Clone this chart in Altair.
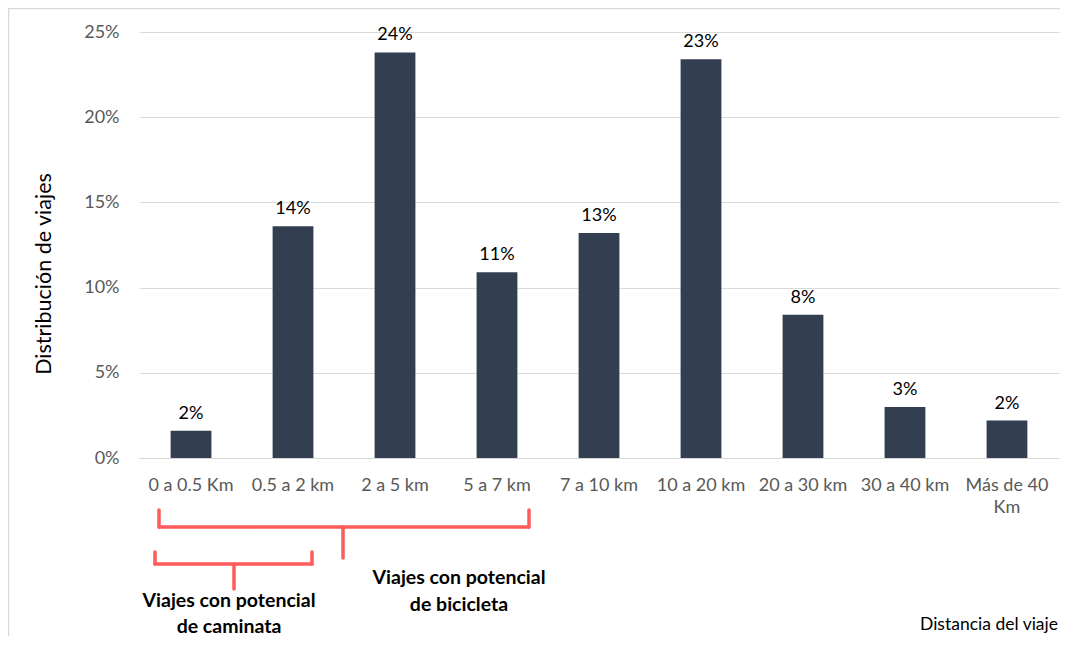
import altair as alt
import pandas as pd

categories = ["0 a 0.5 Km", "0.5 a 2 km", "2 a 5 km", "5 a 7 km", "7 a 10 km",
              "10 a 20 km", "20 a 30 km", "30 a 40 km", "Más de 40 Km"]
values = [0.016, 0.136, 0.238, 0.109, 0.132, 0.234, 0.084, 0.030, 0.022]
y_ticks = [0, 0.05, 0.10, 0.15, 0.20, 0.25]

df = pd.DataFrame({"cat": categories, "value": values})

FONT = "Lato"
RED = "#FF5B5B"
BAR = "#333F50"
GRID = "#D9D9D9"
W, H = 920, 426

x_enc = alt.X("cat:N", sort=categories, title=None,
              scale=alt.Scale(paddingInner=0.6, paddingOuter=0.31),
              axis=alt.Axis(labelAngle=0, labelFont=FONT, labelFontSize=18,
                            labelColor="#595959", labelPadding=18, ticks=False,
                            domainColor=GRID, labelLineHeight=22,
                            labelExpr="datum.label == 'Más de 40 Km' ? ['Más de 40', 'Km'] : datum.label"))
y_enc = alt.Y("value:Q", title=None,
              scale=alt.Scale(domain=[0, 0.25], nice=False),
              axis=alt.Axis(values=y_ticks, format=".0%", labelFont=FONT, labelFontSize=18,
                            labelColor="#595959", labelPadding=20, ticks=False,
                            domain=False, gridColor=GRID, gridWidth=1))

base = alt.Chart(df)
bars = base.mark_bar(color=BAR).encode(x=x_enc, y=y_enc)
labels = base.mark_text(baseline="alphabetic", dy=-12, font=FONT, fontSize=18,
                        color="#000000").encode(
    x=alt.X("cat:N", sort=categories),
    y=alt.Y("value:Q"),
    text=alt.Text("value:Q", format=".0%"))


def one():
    return alt.Chart(alt.Data(values=[{}]))


def seg(x1, y1, x2, y2, color=RED, width=3.5):
    return one().mark_rule(color=color, strokeWidth=width, strokeCap="round").encode(
        x=alt.value(x1), y=alt.value(y1), x2=alt.value(x2), y2=alt.value(y2))


def txt(s, x, y, size=19.5, bold=True, align="center", angle=0, baseline="alphabetic"):
    kw = dict(font=FONT, fontSize=size, fontWeight="bold" if bold else "normal",
              align=align, baseline=baseline, color="#000000")
    if angle:
        kw["angle"] = angle
    return one().mark_text(**kw).encode(x=alt.value(x), y=alt.value(y), text=alt.value(s))


annots = [
    # large bracket (bicicleta)
    seg(20, 478, 20, 495), seg(20, 495, 390, 495), seg(390, 478, 390, 495),
    seg(204, 495, 204, 526),
    # small bracket (caminata)
    seg(16, 520, 16, 532), seg(16, 532, 173, 532), seg(173, 520, 173, 532),
    seg(95, 532, 95, 557),
    txt("Viajes con potencial", 90, 575), txt("de caminata", 90, 601),
    txt("Viajes con potencial", 320, 552), txt("de bicicleta", 320, 579),
    txt("Distancia del viaje", 919, 598, size=17.5, bold=False, align="right"),
    txt("Distribución de viajes", -94, 242, size=21.5, bold=False, angle=270, baseline="middle"),
    # outer frame (top and left edges)
    seg(-130.5, -23.5, -130.5, H + 178, color=GRID, width=1.5),
    seg(-130.5, -23.5, W + 1, -23.5, color=GRID, width=1.5),
]

chart = alt.layer(bars, labels, *annots).properties(
    width=W, height=H,
    autosize=alt.AutoSizeParams(type="none"),
    padding={"left": 131, "top": 24, "right": 1, "bottom": 178},
).configure_view(stroke=None)

chart.save("out.html", embed_options={"renderer": "svg", "actions": False})
